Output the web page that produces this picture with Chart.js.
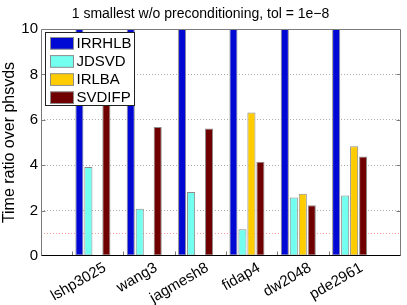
<!DOCTYPE html>
<html>
<head>
<meta charset="utf-8">
<script src="https://cdn.jsdelivr.net/npm/chart.js@4.4.1/dist/chart.umd.min.js"></script>
<style>
  html, body { margin: 0; padding: 0; background: #fff; }
</style>
</head>
<body>
<canvas id="chart" width="407" height="305"></canvas>
<script>
const matrices = ['lshp3025', 'wang3', 'jagmesh8', 'fidap4', 'dw2048', 'pde2961'];
// IRRHLB runs off the top of the axis for every matrix
const irrhlb = [14, 14, 14, 14, 14, 14];
const jdsvd = [3.92, 2.08, 2.82, 1.18, 2.58, 2.66];
const irlba = [null, null, null, 6.32, 2.74, 4.83];
const svdifp = [7.5, 5.68, 5.62, 4.15, 2.24, 4.38];
const methods = ['IRRHLB', 'JDSVD', 'IRLBA', 'SVDIFP'];
const yTicks = [0, 2, 4, 6, 8, 10];
const refLine = 1;

const colors = ['#0008d4', '#72fff0', '#ffcc00', '#700000'];
const FONT = "'Liberation Sans', Arial, Helvetica, sans-serif";
const groupShift = 0.41; // groups sit right of their tick

const seriesValues = [irrhlb, jdsvd, irlba, svdifp];
const datasets = methods.map((name, k) => ({
  label: name,
  data: seriesValues[k].map((v, i) => ({ x: i + 1 + groupShift, y: v })),
  backgroundColor: colors[k],
  borderColor: '#8c8c8c',
  borderWidth: 1,
  borderSkipped: false,
  categoryPercentage: 0.7,
  barPercentage: 0.9,
  clip: 0
}));

const axesBox = {
  id: 'axesBox',
  afterDatasetsDraw(chart) {
    const { ctx, chartArea: a, scales: { x, y } } = chart;
    const L = Math.round(a.left) + 0.5, R = Math.round(a.right) - 0.5;
    const T = Math.round(a.top) + 0.5, B = Math.round(a.bottom) - 0.5;
    ctx.save();
    ctx.lineWidth = 1;
    ctx.strokeStyle = '#7a7a7a';
    ctx.beginPath();
    yTicks.slice(1, -1).forEach(v => {
      const py = Math.round(y.getPixelForValue(v)) + 0.5;
      ctx.moveTo(L, py); ctx.lineTo(L + 4, py);
      ctx.moveTo(R, py); ctx.lineTo(R - 4, py);
    });
    x.ticks.forEach(t => {
      const px = Math.round(x.getPixelForValue(t.value)) + 0.5;
      ctx.moveTo(px, B); ctx.lineTo(px, B - 4);
    });
    ctx.moveTo(L, B); ctx.lineTo(L, T); ctx.lineTo(R, T); ctx.lineTo(R, B);
    ctx.stroke();
    ctx.strokeStyle = '#000';
    ctx.beginPath();
    ctx.moveTo(L, B); ctx.lineTo(R, B);
    ctx.stroke();
    ctx.restore();
  }
};

const boxLegend = {
  id: 'boxLegend',
  afterDraw(chart) {
    const { ctx, chartArea: a } = chart;
    const sets = chart.data.datasets;
    ctx.save();
    ctx.font = '15px ' + FONT;
    const textW = Math.max(...sets.map(d => ctx.measureText(d.label).width));
    const x0 = Math.round(a.left) + 4.5, y0 = Math.round(a.top) + 3.5;
    const rowH = 18.1, swW = 23, swH = 11.7;
    const w = 5 + swW + 3 + textW + 3;
    const h = 5 + rowH * (sets.length - 1) + swH + 2;
    ctx.fillStyle = '#fff';
    ctx.fillRect(x0, y0, w, h);
    ctx.strokeStyle = '#222';
    ctx.lineWidth = 1;
    ctx.strokeRect(x0, y0, w, h);
    ctx.textBaseline = 'middle';
    sets.forEach((d, i) => {
      const sy = y0 + 5 + i * rowH;
      ctx.fillStyle = d.backgroundColor;
      ctx.fillRect(x0 + 5, sy, swW, swH);
      ctx.strokeStyle = '#8c8c8c';
      ctx.strokeRect(x0 + 5, sy, swW, swH);
      ctx.fillStyle = '#000';
      ctx.fillText(d.label, x0 + 5 + swW + 3, sy + swH / 2 + 0.5);
    });
    ctx.restore();
  }
};

new Chart(document.getElementById('chart'), {
  type: 'bar',
  data: { datasets },
  plugins: [axesBox, boxLegend],
  options: {
    responsive: false,
    animation: false,
    events: [],
    layout: { padding: { left: 0, right: 6, top: 0, bottom: 0 } },
    plugins: {
      legend: { display: false },
      tooltip: { enabled: false },
      title: {
        display: true,
        text: '1 smallest w/o preconditioning, tol = 1e\u22128',
        color: '#000',
        font: { family: FONT, size: 14, weight: 'normal' },
        padding: { top: 6, bottom: 6.2 }
      }
    },
    scales: {
      x: {
        type: 'linear',
        offset: false,
        min: 0.4,
        max: 7.41,
        afterBuildTicks: s => { s.ticks = matrices.map((_, i) => ({ value: i + 1 })); },
        afterFit: s => { s.height = 49; },
        grid: { display: false },
        border: { display: false },
        ticks: {
          autoSkip: false,
          minRotation: 30,
          maxRotation: 30,
          labelOffset: 33,
          padding: -5,
          color: '#000',
          font: { family: FONT, size: 15 },
          callback: v => matrices[v - 1]
        }
      },
      y: {
        min: 0,
        max: 10,
        afterBuildTicks: s => { s.ticks = [...yTicks, refLine].sort((p, q) => p - q).map(v => ({ value: v })); },
        afterFit: s => { s.width = 41; },
        grid: {
          drawTicks: false,
          color: c => c.tick.value === refLine ? '#ff9c9c'
            : (c.tick.value > 0 && c.tick.value < 10 ? '#adadad' : 'rgba(0,0,0,0)')
        },
        border: { display: false, dash: [1, 2] },
        ticks: {
          padding: 3,
          color: '#000',
          font: { family: FONT, size: 15 },
          callback: v => yTicks.includes(v) ? v : ''
        },
        title: {
          display: true,
          text: 'Time ratio over phsvds',
          color: '#000',
          font: { family: FONT, size: 16 },
          padding: { top: 0, bottom: 0 }
        }
      }
    }
  }
});
</script>
</body>
</html>
